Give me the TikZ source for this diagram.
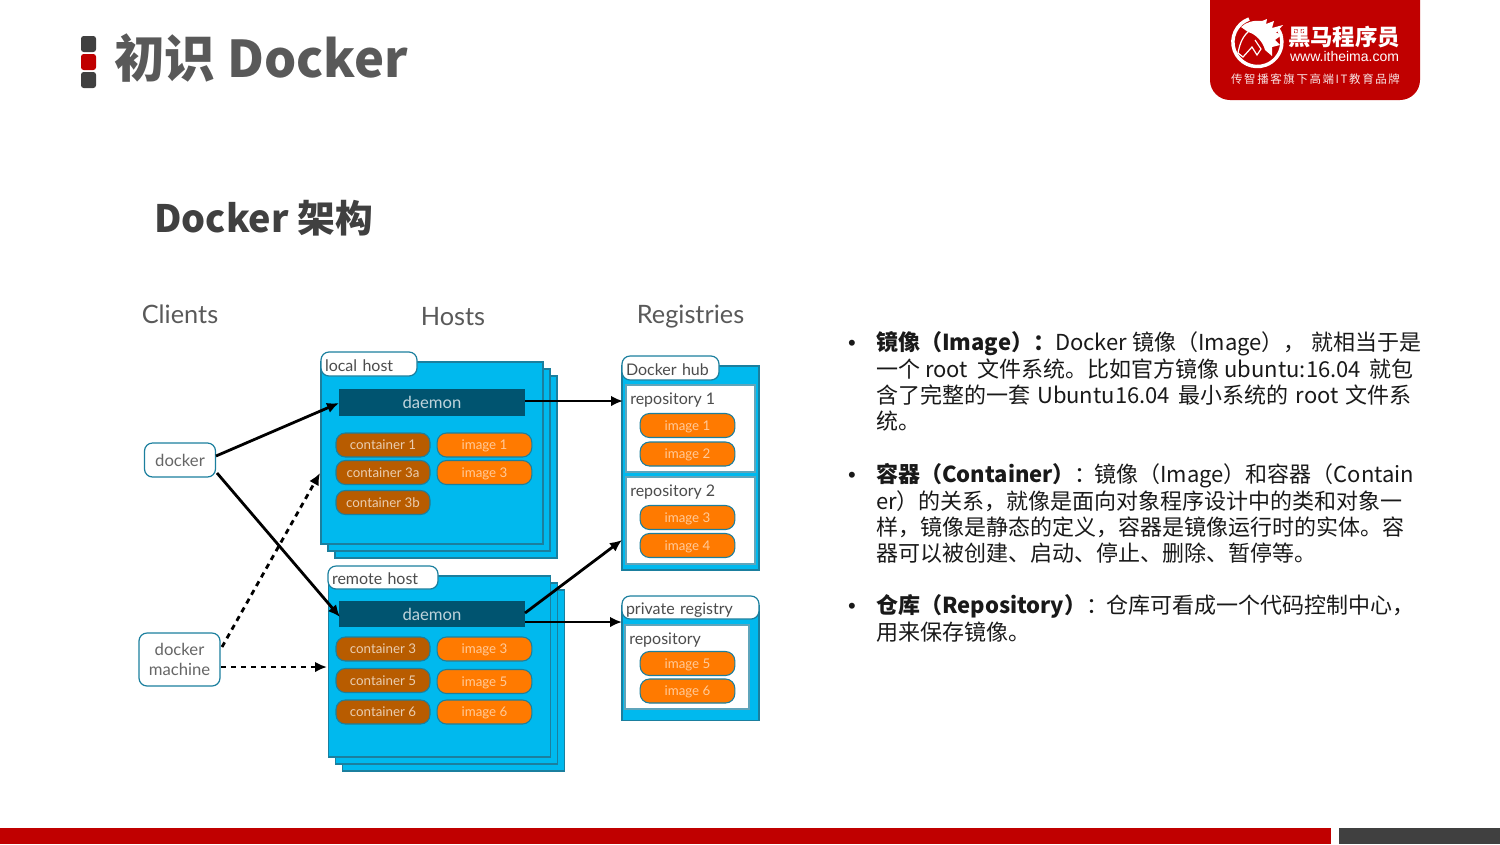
\documentclass[tikz,border=0pt]{standalone}
\usepackage{fontspec}
\usepackage{xcolor}
\usetikzlibrary{arrows.meta}
\setmainfont{Noto Sans CJK SC}
\newfontfamily\labelfont{Lato}
\newfontfamily\logofont{Liberation Sans}
\newfontfamily\tagfont{Noto Sans CJK SC}[LetterSpace=14]
\definecolor{hostblue}{HTML}{00B9EE}
\definecolor{edgeblue}{HTML}{1B7F9E}
\definecolor{daemonblue}{HTML}{005470}
\definecolor{contbrown}{HTML}{B85C00}
\definecolor{imgorange}{HTML}{FF7A00}
\definecolor{itred}{HTML}{C00000}
\definecolor{markgrey}{HTML}{404040}
\tikzset{
  hostbox/.style={draw=edgeblue,line width=0.9pt,fill=hostblue,inner sep=0pt},
  whitebox/.style={draw=edgeblue!70,line width=0.9pt,fill=white,inner sep=0pt},
  tabbox/.style={draw=edgeblue,line width=0.9pt,fill=white,rounded corners=6pt,inner ysep=0pt,inner xsep=3pt,align=left,text height=10.5pt,text depth=0pt,text=black!70,font=\labelfont\fontsize{12}{14}\selectfont},
  daemonbox/.style={fill=daemonblue,inner sep=0pt,text=white!75!daemonblue,font=\labelfont\fontsize{12.5}{14}\selectfont},
  contpill/.style={draw=edgeblue,line width=0.8pt,fill=contbrown,rounded corners=7pt,inner sep=0pt,text=white!70!contbrown,minimum width=70.5pt,minimum height=18pt,text height=9.2pt,text depth=2pt,font=\labelfont\fontsize{10}{12}\selectfont},
  imgpill/.style={contpill,fill=imgorange,text=white!60!imgorange,minimum width=71pt},
  clientbox/.style={draw=edgeblue,line width=0.9pt,fill=white,rounded corners=6pt,inner sep=0pt,align=center,text=black!60,font=\labelfont\fontsize{12.5}{14}\selectfont},
  headline/.style={text=black!65,font=\labelfont\fontsize{19}{22}\selectfont},
  repolabel/.style={anchor=west,inner sep=0pt,text=black!70,font=\labelfont\fontsize{12}{14}\selectfont},
  bodyline/.style={anchor=base west,inner sep=0pt,text=black!90,font=\fontsize{16.5}{20}\selectfont},
  bulletdot/.style={anchor=base,inner sep=0pt,text=black!90,font=\logofont\fontsize{16.5}{20}\selectfont},
  solidarrow/.style={line width=2.1pt,-{Latex[length=9pt,width=8pt]}},
  dasharrow/.style={solidarrow,dash pattern=on 4pt off 3.5pt},
  markbox/.style={rounded corners=2pt,inner sep=0pt,minimum width=11.25pt,minimum height=12pt},
}
\begin{document}
\begin{tikzpicture}[x=0.75pt,y=0.75pt,yscale=-1,xscale=1]
\useasboundingbox (0,0) rectangle (1500,844);

%Footer bars
\draw (665.5,836) node (footred) [fill=itred,inner sep=0pt,minimum width=998.25pt,minimum height=12pt] {};
\draw (1419.5,836) node (footgrey) [fill=markgrey,inner sep=0pt,minimum width=120.75pt,minimum height=12pt] {};

%Title marks
\draw (88.5,44) node (marka) [markbox,fill=markgrey] {};
\draw (88.5,62) node (markb) [markbox,fill=itred] {};
\draw (88.5,80) node (markc) [markbox,fill=markgrey] {};

% Text Node
\draw (114,77) node (pagetitle) [anchor=base west,inner sep=0pt,text=black!65,font=\fontsize{38}{44}\selectfont\bfseries] {初识 Docker};
% Text Node
\draw (154,232) node (subtitle) [anchor=base west,inner sep=0pt,text=black!75,font=\fontsize{28.3}{34}\selectfont\bfseries] {Docker 架构};

%Logo
\fill [itred,rounded corners=15pt] (1210,-30) rectangle (1420,100);
\draw [white,line width=2.6pt] (1249,19) arc (250:-35:24.5);
\fill [white] (1241,27) .. controls (1246,22) and (1254,20) .. (1262,21) -- (1267,19) -- (1266,24) -- (1274,21) -- (1272,28) -- (1283,25) -- (1276,33) -- (1283,34) -- (1275,40) -- (1280,45) -- (1272,47) -- (1272,56) -- (1265,50) .. controls (1263,42) and (1256,34) .. (1248,32) -- cycle;
\draw [white,line width=0.9pt] (1248,32) .. controls (1241,38) and (1239,48) .. (1238,53) -- (1243,57) -- (1252,47) -- (1257,55) -- (1261,49) -- (1255,40);
\draw (1344,37) node (logocn) [inner sep=0pt,text=white,font=\fontsize{16.8}{20}\selectfont\bfseries] {黑马程序员};
\draw (1344.5,56) node (logourl) [inner sep=0pt,text=white,font=\logofont\fontsize{10.5}{12}\selectfont] {www.itheima.com};
\draw (1315.5,79) node (logotag) [inner sep=0pt,text=white!90!itred,font=\tagfont\fontsize{8.6}{10}\selectfont] {传智播客旗下高端IT教育品牌};

% Text Node
\draw (180,314) node (clientshead) [headline] {Clients};
\draw (453,317) node (hostshead) [headline] {Hosts};
\draw (690.5,316.5) node (registrieshead) [headline] {Registries};

%Local host stack
\draw (446,467) node (localc) [hostbox,minimum width=166.5pt,minimum height=136.5pt] {};
\draw (439,460) node (localb) [hostbox,minimum width=166.5pt,minimum height=136.5pt] {};
\draw (432,453) node (locala) [hostbox,minimum width=166.5pt,minimum height=136.5pt] {};
\draw (369,364) node (localtab) [tabbox,text width=66pt,minimum height=18pt] {local host};
\draw (432,402.5) node (daemonlocal) [daemonbox,minimum width=139.5pt,minimum height=20.25pt] {daemon};
\draw (383,445) node (conta) [contpill] {container 1};
\draw (383,472.5) node (contb) [contpill] {container 3a};
\draw (383,502.5) node (contc) [contpill] {container 3b};
\draw (484.5,445) node (imga) [imgpill] {image 1};
\draw (484.5,472.5) node (imgb) [imgpill] {image 3};

%Remote host stack
\draw (453.5,680.5) node (remotec) [hostbox,minimum width=167pt,minimum height=135.75pt] {};
\draw (446.5,673.5) node (remoteb) [hostbox,minimum width=167pt,minimum height=135.75pt] {};
\draw (439.5,666.5) node (remotea) [hostbox,minimum width=167pt,minimum height=135.75pt] {};
\draw (383,577.5) node (remotetab) [tabbox,text width=76.5pt,minimum height=17.25pt] {remote host};
\draw (432,614) node (daemonremote) [daemonbox,minimum width=139.5pt,minimum height=19.5pt] {daemon};
\draw (383,649) node (contd) [contpill] {container 3};
\draw (383,680.5) node (conte) [contpill] {container 5};
\draw (383,712) node (contf) [contpill] {container 6};
\draw (484.5,649) node (imgc) [imgpill] {image 3};
\draw (484.5,681.5) node (imgd) [imgpill] {image 5};
\draw (484.5,712) node (imge) [imgpill] {image 6};

%Docker hub
\draw (690.5,468) node (hubbox) [hostbox,minimum width=102.75pt,minimum height=153pt] {};
\draw (670.5,368) node (hubtab) [tabbox,text width=66.75pt,minimum height=18pt] {Docker hub};
\draw (690.5,428.5) node (repoa) [whitebox,minimum width=96.75pt,minimum height=65.25pt] {};
\draw (690.5,520.5) node (repob) [whitebox,minimum width=96.75pt,minimum height=65.25pt] {};
\draw (630,400.5) node (repoalabel) [repolabel] {repository 1};
\draw (630,492.5) node (repoblabel) [repolabel] {repository 2};
\draw (687.5,425.5) node (hubimga) [imgpill] {image 1};
\draw (687.5,454) node (hubimgb) [imgpill] {image 2};
\draw (687.5,517.5) node (hubimgc) [imgpill] {image 3};
\draw (687.5,545.5) node (hubimgd) [imgpill] {image 4};

%Private registry
\draw (690.5,663) node (privbox) [hostbox,minimum width=102.75pt,minimum height=86.25pt] {};
\draw (690.5,607.5) node (privtab) [tabbox,text width=96.75pt,minimum height=17.25pt] {private registry};
\draw (687,667) node (repoc) [whitebox,minimum width=93pt,minimum height=63pt] {};
\draw (629,640.5) node (repoclabel) [repolabel] {repository};
\draw (687.5,663.5) node (privimga) [imgpill] {image 5};
\draw (687.5,691) node (privimgb) [imgpill] {image 6};

%Clients
\draw (180,460) node (dockerclient) [clientbox,minimum width=53.25pt,minimum height=25.5pt] {docker};
\draw (179.5,659.5) node (dockermachine) [clientbox,minimum width=60.75pt,minimum height=39.75pt,font=\labelfont\fontsize{12.5}{15.5}\selectfont] {docker\\machine};

%Free ends
\coordinate (dashend) at (320,473);
\coordinate (dashflat) at (327,667);
\coordinate (flatstart) at (221,667);
\coordinate (dashstart) at (222,647);
\coordinate (clientup) at (216,456);
\coordinate (clientdown) at (217,473);
\coordinate (remotedaemonup) at (525,613);
\coordinate (remotedaemonflat) at (525,622);
\coordinate (hubarrow) at (622,540);
\coordinate (privarrow) at (622,622);
\coordinate (localout) at (525,401);
\coordinate (repoarrow) at (623,401);
\coordinate (localin) at (339,403);
\coordinate (remotein) at (340,617);

%Straight Lines
\draw [solidarrow] (clientup) -- (localin);
\draw [solidarrow] (clientdown) -- (remotein);
\draw [dasharrow] (dashstart) -- (dashend);
\draw [dasharrow] (flatstart) -- (dashflat);
\draw [solidarrow] (localout) -- (repoarrow);
\draw [solidarrow] (remotedaemonup) -- (hubarrow);
\draw [solidarrow] (remotedaemonflat) -- (privarrow);

% Bullets
\draw (852,350) node (bulleta) [bulletdot] {•};
\draw (852,482) node (bulletb) [bulletdot] {•};
\draw (852,613) node (bulletc) [bulletdot] {•};

% Text Node
\draw (876,350) node (linea) [bodyline] {\textbf{镜像（Image）：}Docker 镜像（Image），\kern4.5pt 就相当于是};
\draw (876,377) node (lineb) [bodyline] {一个 root\kern3.5pt{} 文件系统。比如官方镜像 ubuntu:16.04\kern2.5pt{} 就包};
\draw (876,403) node (linec) [bodyline] {含了完整的一套\kern1.5pt{} Ubuntu16.04\kern3pt{} 最小系统的\kern1.5pt{} root\kern1.5pt{} 文件系};
\draw (876,429) node (lined) [bodyline] {统。};
\draw (876,482) node (linee) [bodyline] {\textbf{容器（Container）}：\kern-2pt 镜像（Image）和容器（Contain};
\draw (876,509) node (linef) [bodyline] {er）的关系，就像是面向对象程序设计中的类和对象一};
\draw (876,535) node (lineg) [bodyline] {样，镜像是静态的定义，容器是镜像运行时的实体。容};
\draw (876,561) node (lineh) [bodyline] {器可以被创建、启动、停止、删除、暂停等。};
\draw (876,613) node (linei) [bodyline] {\textbf{仓库（Repository）}：\kern-1.5pt 仓库可看成一个代码控制中心，};
\draw (876,640) node (linej) [bodyline] {用来保存镜像。};
\end{tikzpicture}
\end{document}
